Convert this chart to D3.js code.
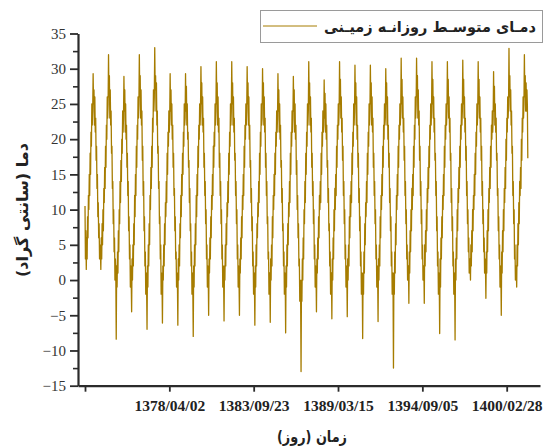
<!DOCTYPE html>
<html>
<head>
<meta charset="utf-8">
<script src="https://cdn.jsdelivr.net/npm/d3@7"></script>
<style>
  body { margin: 0; background: #fff; }
  svg { display: block; }
</style>
</head>
<body>
<svg id="chart" width="543" height="448"></svg>
<script>
// Mean ground temperature (°C), 1994 (1372/10) to autumn 2022 (1401/07),
// one reading per ten-day period: 36 readings per year, starting at 1 January.
const years = [1994, 1995, 1996, 1997, 1998, 1999, 2000, 2001, 2002, 2003,
               2004, 2005, 2006, 2007, 2008, 2009, 2010, 2011, 2012, 2013,
               2014, 2015, 2016, 2017, 2018, 2019, 2020, 2021, 2022];

const dekadTemps = [
  "10.5 3 7 1.5 6 3 9 6 12 10 15 12 18 15 21 19 25 22 24 29.3 25 27 22 26 21 23 17 19 13 15 9 11 6 8 3 5",
  "4 1.5 6 3 8 5 10 7 13 11 16 13 19 16 22 20 26 23 25 32 26 29 23 27 22 24 18 19 13 14 8 10 4 6 0 3",
  "1 -8.4 2 -1 4 1 7 4 10 8 14 11 17 14 20 18 24 21 23 28.9 24 27 21 25 20 22 16 18 12 14 7 9 3 5 -1 2",
  "0 -4.5 3 0 5 2 8 5 12 9 15 12 19 16 22 20 26 23 25 32 26 29 23 27 22 24 17 19 12 14 7 9 2 4 -2 1",
  "-1 -7 2 -1 5 2 8 5 12 10 16 13 19 16 23 21 27 24 26 33 27 29 24 28 22 24 18 19 13 14 8 9 3 5 -2 1",
  "0 -6.1 2 0 5 2 8 5 11 9 14 11 18 15 21 19 24 21 23 29.3 24 27 22 25 20 22 16 18 12 13 7 9 3 4 -1 1",
  "0 -6.4 3 0 5 2 8 6 12 9 15 12 18 15 21 19 25 22 23 29.3 24 27.5 22 25 20 21 16 17 11 13 7 8 2 4 -2 1",
  "-1 -8 2 -1 5 2 8 5 12 9 15 12 19 16 22 20 25 22 24 30.3 25 28 22 26 21 23 16 18 12 14 8 10 3 5 -1 2",
  "1 -5 3 1 6 3 9 6 12 10 15 12 19 16 21 19 25 22 24 31 25 28 22 26 21 23 16 18 12 14 8 10 3 5 -1 2",
  "0 -5.8 2 0 5 2 8 5 11 9 14 11 18 15 21 19 25 22 24 31 25 28 22 26 21 23 17 18 12 14 8 10 3 5 -1 2",
  "0 -5 3 1 6 3 9 6 12 10 15 12 19 16 22 20 25 22 24 30.3 25 28 22 26 20 22 16 17 11 13 7 9 2 4 -2 1",
  "0 -6.4 2 -1 5 2 8 6 11 9 14 11 18 15 21 19 25 22 23 30 25 28 22 26 21 23 16 18 12 14 8 9 3 4 -2 1",
  "1 -6 3 0 5 2 9 6 12 10 15 12 18 15 21 19 24 21 23 29.3 24 27 21 25 20 22 16 17 11 13 7 8 2 4 -2 1",
  "0 -7.5 2 -1 5 2 8 5 11 9 14 11 18 15 21 19 24 21 23 28.9 24 27 21 25 20 22 15 17 10 12 6 8 2 3 -3 0",
  "-2 -13 0 -3 3 0 6 3 10 8 14 11 18 15 21 19 25 22 24 31 25 28 22 26 21 23 16 18 12 14 8 10 3 5 -1 2",
  "1 -4.5 3 1 6 3 9 6 12 10 14 11 18 15 21 19 24 21 22 28.4 23 26.5 21 25 20 22 16 17 11 13 7 8 2 4 -2 1",
  "1 -5.5 3 0 6 3 10 7 13 10 15 12 19 16 22 20 25 22 24 31 25 28.5 23 26 21 23 17 19 12 14 8 10 3 5 -1 2",
  "1 -5.2 3 0 5 2 9 6 12 9 14 11 18 15 21 19 25 22 24 30.5 25 28 22 26 20 22 16 18 11 13 7 9 2 4 -2 1",
  "0 -8.3 1 -2 4 1 8 5 11 9 14 11 18 15 21 19 25 22 24 30.5 25 28 22 26 21 23 16 18 12 14 8 10 3 5 -1 2",
  "1 -5.9 3 0 5 2 9 6 12 10 15 12 19 16 22 20 25 22 23 30 25 28 22 26 20 22 16 18 11 13 7 9 2 4 -2 1",
  "-1 -12.5 1 -2 4 1 8 5 12 10 15 12 19 16 22 20 25 22 24 31.5 25 28.5 23 26 21 23 17 19 12 14 8 10 3 5 0 2",
  "2 -3.3 4 1 7 4 10 7 13 10 15 12 19 16 22 20 26 23 25 31.5 26 29 23 27 22 24 17 19 12 14 8 10 3 5 0 2",
  "2 -3.3 5 2 7 4 10 7 13 11 16 13 19 16 22 20 25 22 24 31 25 28.5 23 26 21 23 17 18 12 14 7 9 2 4 -2 1",
  "0 -7.6 3 -1 6 3 9 6 12 10 15 12 19 16 22 20 25 22 24 31 25 28.5 23 26 21 23 17 18 11 13 7 9 2 4 -2 1",
  "0 -8.5 3 0 6 3 10 7 13 11 16 13 19 16 22 20 25 22 24 31.2 25 28.5 23 26 21 23 17 19 12 14 8 10 4 6 1 3",
  "3 0 5 2 7 4 10 7 12 10 15 12 18 15 21 19 25 22 24 31 25 28.5 23 26 21 23 17 19 12 14 8 10 4 6 1 3",
  "2 -2.6 4 1 7 4 10 7 13 11 16 13 19 16 22 20 24 21 23 29.6 24 27.5 22 25 21 23 17 18 12 13 7 9 3 5 -1 2",
  "1 -5 4 1 7 4 10 7 13 11 16 13 20 17 23 21 26 23 25 32.9 26 29 24 27 22 24 18 19 12 14 8 10 3 5 0 2",
  "2 -1 5 2 8 5 11 8 14 12 16 13 20 17 23 21 26 23 25 32 26 29 24 28 24 27 24.7 17.3"
];

// Day-index ticks on the time axis with their Solar Hijri dates
const dayTicks = [0, 2000, 4000, 6000, 8000, 10000];
const dayTickLabels = ["", "1378/04/02", "1383/09/23", "1389/03/15", "1394/09/05", "1400/02/28"];

const yMajorTicks = [-15, -10, -5, 0, 5, 10, 15, 20, 25, 30, 35];
const yMinorTicks = [-12.5, -7.5, -2.5, 2.5, 7.5, 12.5, 17.5, 22.5, 27.5, 32.5];

const seriesName = "دمـای متوسـط روزانـه زمیـنی";
const xTitle = "زمان (روز)";
const yTitle = "دما (سانتی گراد)";

// Build (day, value) records: day 0 is 1 January 1994
const DAYS_PER_YEAR = 365.25;
const PER_YEAR = 36;
const records = [];
years.forEach((yr, k) => {
  dekadTemps[k].trim().split(/\s+/).map(Number).forEach((v, i) => {
    records.push({ day: k * DAYS_PER_YEAR + i * DAYS_PER_YEAR / PER_YEAR, value: v });
  });
});

const svg = d3.select("#chart");
const lineColor = "#a67c00";
const axisColor = "#2b2b2b";

const x = d3.scaleLinear().domain([-166, 10790]).range([78, 540]);
const y = d3.scaleLinear().domain([-15, 35]).range([385.7, 33.5]);

// Data line
const line = d3.line().x(d => x(d.day)).y(d => y(d.value));
svg.append("path")
  .datum(records)
  .attr("fill", "none")
  .attr("stroke", lineColor)
  .attr("stroke-width", 1.3)
  .attr("stroke-linejoin", "round")
  .attr("d", line);

// Y axis: major ticks with labels, minor ticks without
const yAxis = svg.append("g")
  .attr("transform", "translate(78,0)")
  .call(d3.axisLeft(y).tickValues(yMajorTicks).tickSize(8).tickSizeOuter(0).tickPadding(4));
svg.append("g")
  .attr("transform", "translate(78,0)")
  .call(d3.axisLeft(y).tickValues(yMinorTicks).tickSize(5).tickFormat(""))
  .call(g => g.select(".domain").remove())
  .selectAll("line").attr("stroke", axisColor).attr("stroke-width", 1.6);

yAxis.select(".domain").attr("stroke", axisColor).attr("stroke-width", 2.2);
yAxis.selectAll(".tick line").attr("stroke", axisColor).attr("stroke-width", 1.8);
yAxis.selectAll(".tick text")
  .attr("font-family", "'Liberation Serif', 'Times New Roman', serif")
  .attr("font-size", 15)
  .attr("fill", "#333");

// X axis
const xAxis = svg.append("g")
  .attr("transform", "translate(0,385.7)")
  .call(d3.axisBottom(x).tickValues(dayTicks).tickSize(6).tickSizeOuter(0).tickPadding(8)
    .tickFormat((d, i) => dayTickLabels[i]));
xAxis.select(".domain").attr("stroke", axisColor).attr("stroke-width", 2.2);
xAxis.selectAll(".tick line").attr("stroke", axisColor).attr("stroke-width", 1.8);
xAxis.selectAll(".tick text")
  .attr("font-family", "'Liberation Serif', 'Times New Roman', serif")
  .attr("font-size", 15.5)
  .attr("font-weight", "bold")
  .attr("fill", "#222");

// Axis titles
svg.append("text")
  .attr("transform", "translate(22,210) rotate(-90)")
  .attr("text-anchor", "middle")
  .attr("dominant-baseline", "central")
  .attr("font-family", "'DejaVu Sans', sans-serif")
  .attr("font-weight", "bold")
  .attr("font-size", 16)
  .attr("textLength", 134)
  .attr("lengthAdjust", "spacingAndGlyphs")
  .attr("fill", "#222")
  .text(yTitle);

svg.append("text")
  .attr("x", 312)
  .attr("y", 436)
  .attr("text-anchor", "middle")
  .attr("dominant-baseline", "central")
  .attr("font-family", "'DejaVu Sans', sans-serif")
  .attr("font-weight", "bold")
  .attr("font-size", 16)
  .attr("textLength", 70)
  .attr("lengthAdjust", "spacingAndGlyphs")
  .attr("fill", "#222")
  .text(xTitle);

// Legend
const legend = svg.append("g");
legend.append("rect")
  .attr("x", 260.5).attr("y", 10.5)
  .attr("width", 282).attr("height", 32)
  .attr("fill", "#fff")
  .attr("stroke", "#9a9a9a")
  .attr("stroke-width", 1);
legend.append("line")
  .attr("x1", 263).attr("x2", 317)
  .attr("y1", 26).attr("y2", 26)
  .attr("stroke", lineColor)
  .attr("stroke-width", 1);
legend.append("text")
  .attr("x", 430)
  .attr("y", 27)
  .attr("text-anchor", "middle")
  .attr("dominant-baseline", "central")
  .attr("font-family", "'DejaVu Sans', sans-serif")
  .attr("font-weight", "bold")
  .attr("font-size", 15)
  .attr("textLength", 212)
  .attr("lengthAdjust", "spacingAndGlyphs")
  .attr("fill", "#222")
  .text(seriesName);
</script>
</body>
</html>
